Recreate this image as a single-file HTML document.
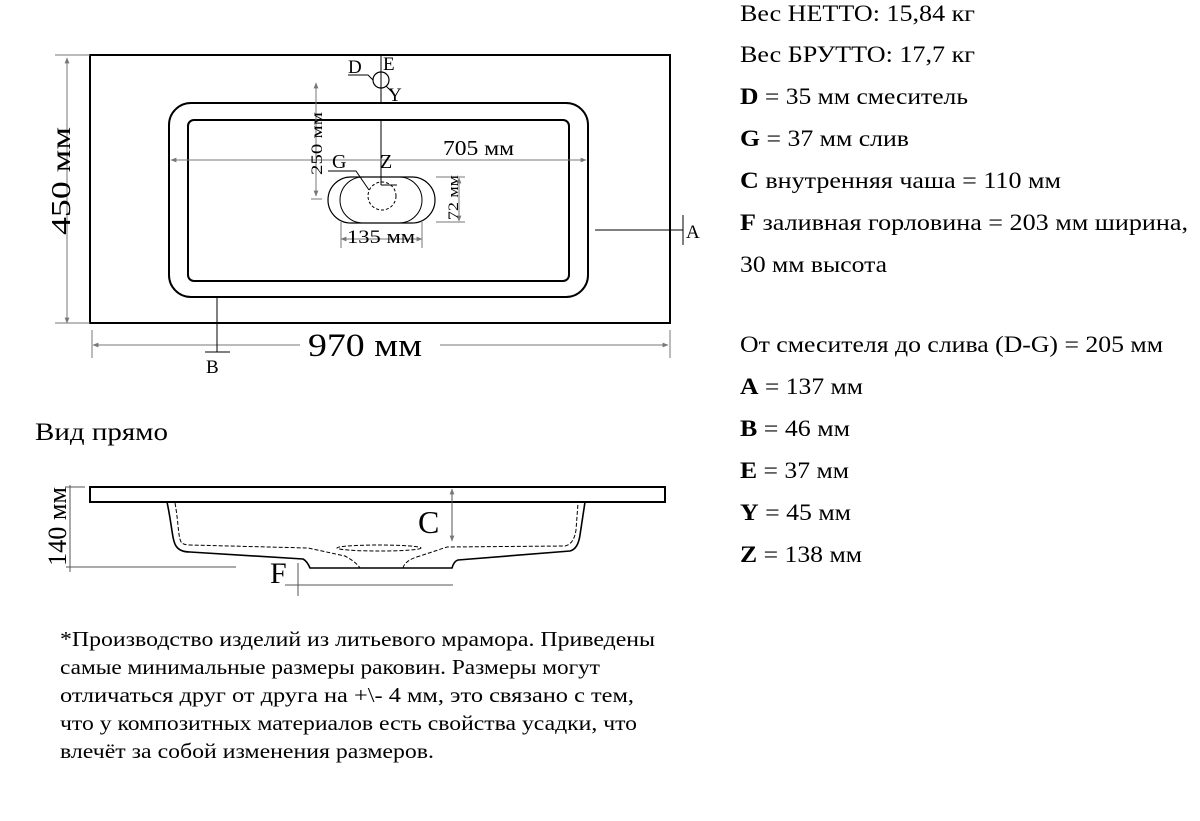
<!DOCTYPE html>
<html><head><meta charset="utf-8"><style>
html,body{margin:0;padding:0;background:#fff;}
svg{display:block;font-family:"Liberation Serif",serif;}
</style></head><body>
<svg width="1200" height="821" viewBox="0 0 1200 821" xmlns="http://www.w3.org/2000/svg">
<defs>
<marker id="ar" viewBox="0 0 10 10" refX="9" refY="5" markerWidth="6" markerHeight="6" orient="auto-start-reverse"><path d="M0,1 L10,5 L0,9 z" fill="#777"/></marker>
</defs>
<g fill="none" stroke="#000">
<rect x="90" y="55" width="580" height="268" stroke-width="2"/>
<rect x="169" y="103" width="419" height="194" rx="22" stroke-width="2"/>
<rect x="188" y="120" width="381" height="161" rx="6" stroke-width="2"/>
<line x1="381" y1="55" x2="381" y2="103" stroke-width="1"/>
<line x1="381" y1="120" x2="381" y2="185" stroke-width="1"/>
<line x1="381" y1="103" x2="397" y2="103" stroke-width="2"/>
<line x1="381" y1="120" x2="397" y2="120" stroke-width="2"/>
<line x1="381" y1="185" x2="397" y2="185" stroke-width="1"/>
<circle cx="381" cy="80" r="8" stroke-width="1.2"/>
<path d="M348 75 L368 75 L373 80" stroke-width="1"/>
<line x1="386" y1="86" x2="392" y2="92" stroke-width="1"/>
<rect x="328" y="177" width="107" height="46" rx="23" stroke-width="1.2"/>
<rect x="340" y="177" width="82" height="46" rx="23" stroke-width="1"/>
<circle cx="382" cy="196" r="14" stroke-width="1" stroke-dasharray="3,2"/>
<path d="M328 171 L356 171 L369 190" stroke-width="1"/>
<line x1="311" y1="199" x2="322" y2="199" stroke="#777"/>
<g stroke="#777" stroke-width="1">
<line x1="171" y1="160" x2="586" y2="160" marker-start="url(#ar)" marker-end="url(#ar)"/>
<line x1="316" y1="83" x2="316" y2="196" marker-start="url(#ar)" marker-end="url(#ar)"/>
<line x1="341" y1="239" x2="422" y2="239" marker-start="url(#ar)" marker-end="url(#ar)"/>
<line x1="341" y1="222" x2="341" y2="248"/><line x1="422" y1="222" x2="422" y2="248"/>
<line x1="459" y1="178" x2="459" y2="221" marker-start="url(#ar)" marker-end="url(#ar)"/>
<line x1="436" y1="177" x2="465" y2="177"/><line x1="436" y1="222" x2="465" y2="222"/>
<line x1="67" y1="58" x2="67" y2="323" marker-start="url(#ar)" marker-end="url(#ar)"/>
<line x1="55" y1="55" x2="90" y2="55"/><line x1="55" y1="323" x2="90" y2="323"/>
<line x1="93" y1="345" x2="300" y2="345" marker-start="url(#ar)"/>
<line x1="440" y1="345" x2="668" y2="345" marker-end="url(#ar)"/>
<line x1="92" y1="330" x2="92" y2="358"/><line x1="670" y1="330" x2="670" y2="358"/>
</g>
<line x1="595" y1="230" x2="683" y2="230" stroke-width="1"/>
<line x1="683" y1="215" x2="683" y2="245" stroke-width="1"/>
<line x1="217" y1="297" x2="217" y2="352" stroke-width="1"/>
<line x1="205" y1="352" x2="230" y2="352" stroke-width="1"/>
<!-- side view -->
<rect x="90" y="487" width="575" height="15" stroke-width="2"/>
<path d="M167 502 C172 525 172 540 176 546 Q180 552 190 552 L303 559 Q307 561 310 568 L452 568 Q454 561 458 560 L570 551 Q578 549 580 535 L585 502" stroke-width="1.6"/>
<path d="M175 503 C179 525 178 540 182 543 Q184 545 190 545 L308 548 L345 556 Q356 562 360 568 M403 568 Q405 560 420 556 L447 547 L565 546 Q574 544 576 530 L578 503" stroke-width="1" stroke-dasharray="4,2"/>
<ellipse cx="379" cy="548" rx="42" ry="3" stroke-width="1" stroke-dasharray="4,2"/>
<g stroke="#555" stroke-width="1">
<line x1="70" y1="485" x2="70" y2="572"/>
<line x1="65" y1="487" x2="85" y2="487"/>
<line x1="66" y1="567" x2="236" y2="567"/>
<line x1="285" y1="585" x2="453" y2="585"/>
<line x1="298" y1="563" x2="298" y2="596"/>
<line x1="452" y1="489" x2="452" y2="541" marker-start="url(#ar)" marker-end="url(#ar)"/>
</g>
</g>
<g fill="#000">
<text x="348" y="73" font-size="19">D</text>
<text x="383" y="70" font-size="19">E</text>
<text x="388" y="101" font-size="19">Y</text>
<text x="332" y="168" font-size="20">G</text>
<text x="380" y="168" font-size="20">Z</text>
<text x="443" y="155" font-size="21" textLength="71" lengthAdjust="spacingAndGlyphs">705 мм</text>
<text x="347" y="243" font-size="19" textLength="68" lengthAdjust="spacingAndGlyphs">135 мм</text>
<text transform="translate(322,175) rotate(-90)" font-size="16" textLength="63" lengthAdjust="spacingAndGlyphs">250 мм</text>
<text transform="translate(458,220) rotate(-90)" font-size="15" textLength="45" lengthAdjust="spacingAndGlyphs">72 мм</text>
<text transform="translate(70,235) rotate(-90)" font-size="27" textLength="108" lengthAdjust="spacingAndGlyphs">450 мм</text>
<text x="308" y="356" font-size="33" textLength="114" lengthAdjust="spacingAndGlyphs">970 мм</text>
<text x="686" y="238" font-size="19">A</text>
<text x="206" y="373" font-size="19">B</text>
<text x="35" y="440" font-size="25" textLength="133" lengthAdjust="spacingAndGlyphs">Вид прямо</text>
<text x="418" y="533" font-size="32">C</text>
<text x="270" y="583" font-size="30">F</text>
<text transform="translate(66,566) rotate(-90)" font-size="26" textLength="79" lengthAdjust="spacingAndGlyphs">140 мм</text>
<g font-size="23">
<text x="740" y="21" textLength="235" lengthAdjust="spacingAndGlyphs">Вес НЕТТО: 15,84 кг</text>
<text x="740" y="62" textLength="235" lengthAdjust="spacingAndGlyphs">Вес БРУТТО: 17,7 кг</text>
<text x="740" y="104" textLength="228" lengthAdjust="spacingAndGlyphs"><tspan font-weight="bold">D</tspan> = 35 мм смеситель</text>
<text x="740" y="146" textLength="169" lengthAdjust="spacingAndGlyphs"><tspan font-weight="bold">G</tspan> = 37 мм слив</text>
<text x="740" y="188" textLength="321" lengthAdjust="spacingAndGlyphs"><tspan font-weight="bold">C</tspan> внутренняя чаша = 110 мм</text>
<text x="740" y="230" textLength="448" lengthAdjust="spacingAndGlyphs"><tspan font-weight="bold">F</tspan> заливная горловина = 203 мм ширина,</text>
<text x="740" y="272" textLength="147" lengthAdjust="spacingAndGlyphs">30 мм высота</text>
<text x="740" y="352" textLength="423" lengthAdjust="spacingAndGlyphs">От смесителя до слива (D-G) = 205 мм</text>
<text x="740" y="394" textLength="123" lengthAdjust="spacingAndGlyphs"><tspan font-weight="bold">A</tspan> = 137 мм</text>
<text x="740" y="436" textLength="110" lengthAdjust="spacingAndGlyphs"><tspan font-weight="bold">B</tspan> = 46 мм</text>
<text x="740" y="478" textLength="109" lengthAdjust="spacingAndGlyphs"><tspan font-weight="bold">E</tspan> = 37 мм</text>
<text x="740" y="520" textLength="111" lengthAdjust="spacingAndGlyphs"><tspan font-weight="bold">Y</tspan> = 45 мм</text>
<text x="740" y="562" textLength="122" lengthAdjust="spacingAndGlyphs"><tspan font-weight="bold">Z</tspan> = 138 мм</text>
</g>
<g font-size="21">
<text x="60" y="646" textLength="595" lengthAdjust="spacingAndGlyphs">*Производство изделий из литьевого мрамора. Приведены</text>
<text x="60" y="674" textLength="540" lengthAdjust="spacingAndGlyphs">самые минимальные размеры раковин. Размеры могут</text>
<text x="60" y="702" textLength="574" lengthAdjust="spacingAndGlyphs">отличаться друг от друга на +\- 4 мм, это связано с тем,</text>
<text x="60" y="730" textLength="577" lengthAdjust="spacingAndGlyphs">что у композитных материалов есть свойства усадки, что</text>
<text x="60" y="758" textLength="374" lengthAdjust="spacingAndGlyphs">влечёт за собой изменения размеров.</text>
</g>
</g>
</svg>
</body></html>
